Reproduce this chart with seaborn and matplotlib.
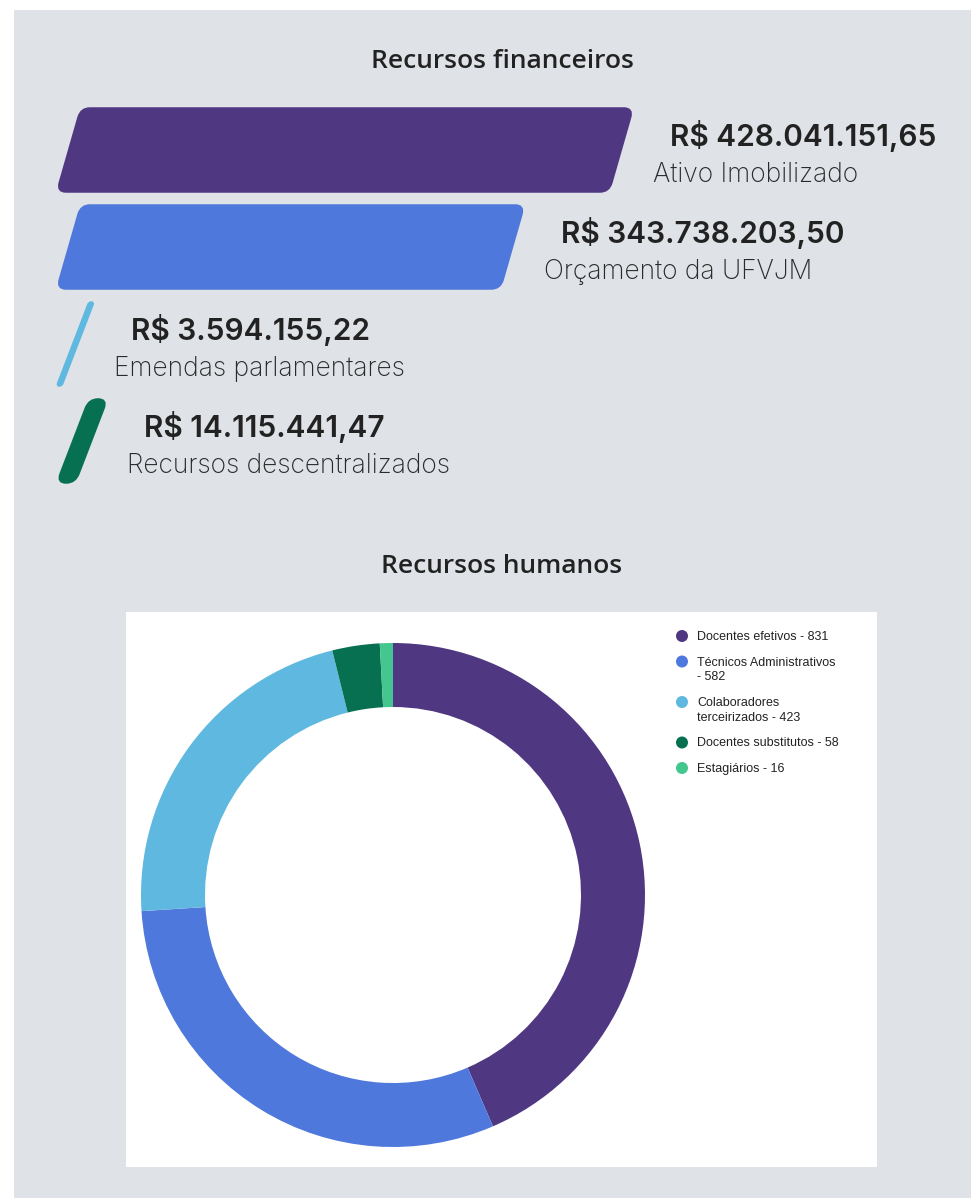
import textwrap
import numpy as np
import pandas as pd
import matplotlib
matplotlib.use("Agg")
import matplotlib.pyplot as plt
from matplotlib.patches import FancyBboxPatch, Rectangle, Circle
from matplotlib.transforms import Affine2D, IdentityTransform
import seaborn as sns

# Recursos financeiros
fin_labels = ["Ativo Imobilizado", "Orçamento da UFVJM",
              "Emendas parlamentares", "Recursos descentralizados"]
fin_values = [428041151.65, 343738203.50, 3594155.22, 14115441.47]
fin_colors = ["#4f3782", "#4e78dc", "#5fb8df", "#077050"]
fin_skew = [16, 16, 21, 21]

# Recursos humanos
hr_labels = ["Docentes efetivos", "Técnicos Administrativos",
             "Colaboradores terceirizados", "Docentes substitutos", "Estagiários"]
hr_values = [831, 582, 423, 58, 16]
hr_colors = ["#4f3782", "#4e78dc", "#5fb8df", "#077050", "#43c78e"]

W, H = 971, 1198
BG = "#dfe2e6"


def brl(v):
    s = f"{v:,.2f}".replace(",", "X").replace(".", ",").replace("X", ".")
    return f"R$ {s}"


def box(x, y_top, w, h):
    """pixel box (top-left origin) -> figure fraction rect"""
    return [x / W, 1 - (y_top + h) / H, w / W, h / H]


sns.set_theme(style="white")
plt.rcParams["font.family"] = ["DejaVu Sans"]

fig = plt.figure(figsize=(W / 100, H / 100), dpi=100, facecolor="white")
fig.patches.append(Rectangle((14 / W, 0), 1, 1 - 10 / H, transform=fig.transFigure,
                             facecolor=BG, edgecolor="none", zorder=-10))
fig.patches.append(Rectangle((126 / W, 1 - 1167 / H), 751 / W, 555 / H,
                             transform=fig.transFigure, facecolor="white",
                             edgecolor="none", zorder=-5))

fig.text(502 / W, 1 - 68 / H, "Recursos financeiros", ha="center", va="baseline",
         fontsize=19, fontfamily="Open Sans", fontweight="semibold", color="#222222")
fig.text(502 / W, 1 - 573 / H, "Recursos humanos", ha="center", va="baseline",
         fontsize=19, fontfamily="Open Sans", fontweight="semibold", color="#222222")

# ---- bars ----
ax = fig.add_axes(box(57, 101.5, 552, 388))
df = pd.DataFrame({"label": fin_labels, "value": fin_values})
sns.barplot(data=df, x="value", y="label", hue="label", palette=fin_colors,
            orient="h", width=0.86, legend=False, ax=ax)
ax.set_xlim(0, max(fin_values))
ax.set_ylim(len(fin_values) - 0.5, -0.5)
ax.axis("off")
ax.patch.set_alpha(0)

bars = sorted(ax.patches, key=lambda p: p.get_y())
for i, bar in enumerate(bars):
    (x0, y0), (x1, y1) = ax.transData.transform(
        [(bar.get_x(), bar.get_y() + bar.get_height()),
         (bar.get_x() + bar.get_width(), bar.get_y())])
    w, h = x1 - x0, y1 - y0
    r = min(9, w / 2, h / 2)
    skew = Affine2D().translate(-x0, -y0).skew_deg(fin_skew[i], 0).translate(x0, y0)
    fig.patches.append(FancyBboxPatch((x0, y0), w, h,
                                      boxstyle=f"round,pad=0,rounding_size={r}",
                                      transform=skew, facecolor=fin_colors[i],
                                      edgecolor=fin_colors[i], linewidth=1.5,
                                      joinstyle="round"))
    bar.set_visible(False)
    shift = h * np.tan(np.radians(fin_skew[i]))
    ax.annotate(brl(fin_values[i]), xy=(bar.get_width(), i),
                xytext=(shift + 37, 4), textcoords="offset pixels", ha="left", va="baseline",
                fontsize=21.5, fontfamily="Inter", fontweight="semibold", color="#222222")
    ax.annotate(fin_labels[i], xy=(bar.get_width(), i),
                xytext=(shift + 20, -32), textcoords="offset pixels", ha="left", va="baseline",
                fontsize=19, fontfamily="Inter", fontweight="light", color="#2a2a2a")

# ---- donut ----
R = 252
ext = 1.04
pie_ax = fig.add_axes(box(393 - R * ext, 895 - R * ext, 2 * R * ext, 2 * R * ext))
pie_ax.pie(hr_values, colors=hr_colors, startangle=90, counterclock=False,
           wedgeprops=dict(width=64 / R, linewidth=0))
pie_ax.set_xlim(-ext, ext)
pie_ax.set_ylim(-ext, ext)
pie_ax.set_aspect("equal")

# legend
y = 636
for lab, val, col in zip(hr_labels, hr_values, hr_colors):
    txt = textwrap.fill(f"{lab} - {val}", width=25)
    nlines = txt.count("\n") + 1
    fig.patches.append(Circle((682, H - y), 6, transform=IdentityTransform(),
                              facecolor=col, edgecolor="none"))
    fig.text(697 / W, 1 - (y - 5) / H, txt, ha="left", va="top", fontsize=9,
             fontfamily="Liberation Sans", color="#222222", linespacing=1.32)
    y += (nlines - 1) * 15 + 25.5

fig.savefig("out.png", dpi=100, facecolor=fig.get_facecolor())
